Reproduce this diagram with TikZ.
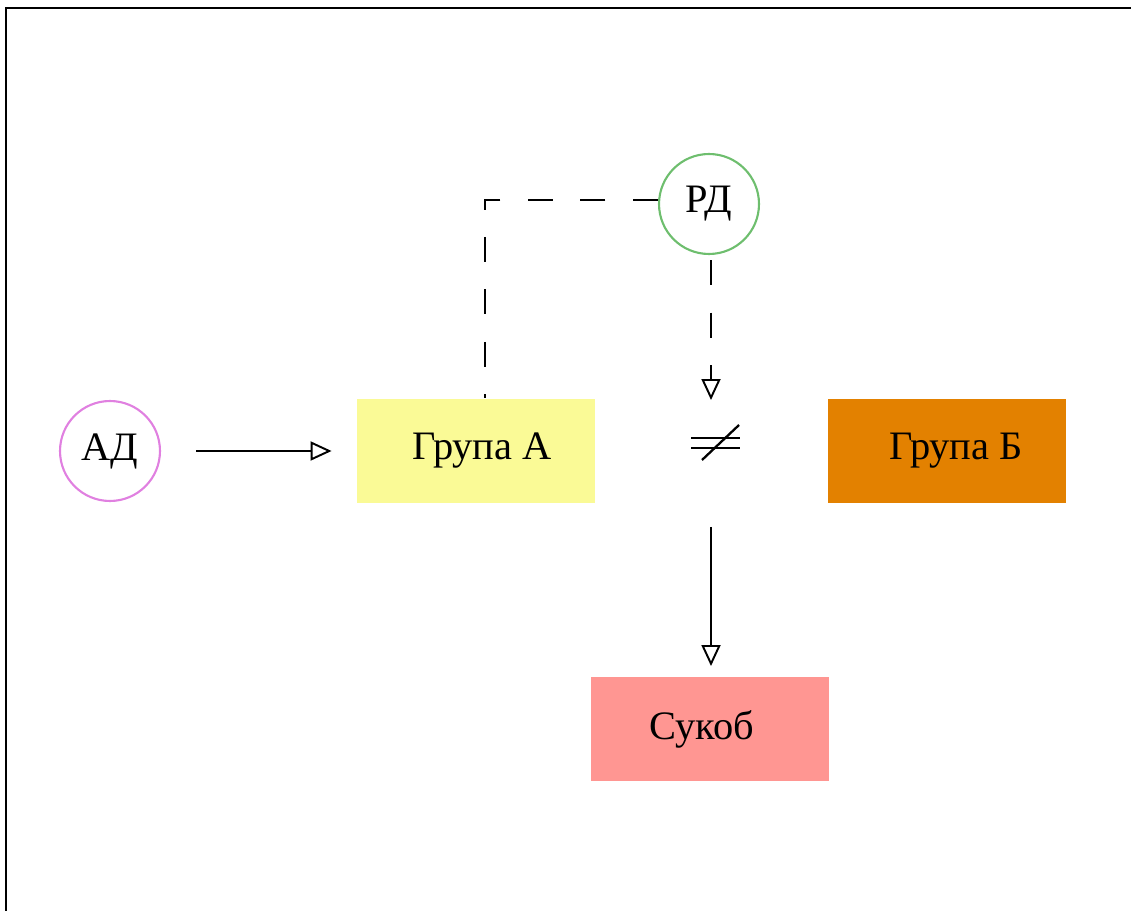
\documentclass[tikz,border=0pt]{standalone}
\usepackage{fontspec}
\setmainfont{Liberation Serif}
\usetikzlibrary{arrows.meta}
\definecolor{adpink}{RGB}{224,128,224}
\definecolor{rdgreen}{RGB}{110,190,110}
\definecolor{grpa}{RGB}{250,250,150}
\definecolor{grpb}{RGB}{227,129,0}
\definecolor{sukob}{RGB}{255,150,146}
\begin{document}
\begin{tikzpicture}[
    x=0.02cm, y=-0.02cm,
    every path/.style={>={Triangle[open,length=0.42cm,width=0.38cm]}},
    line width=1.1pt,
    minimum size=2cm,
    font=\fontsize{23}{27}\selectfont
    ]
    \useasboundingbox (0,0) rectangle (1131,911);

    % frame
    \draw[line width=1.6pt] (6,911) -- (6,8) -- (1131,8);

    % nodes
    \node[draw=adpink,circle,line width=1.2pt] (ad) at (110,451) {АД};
    \node[draw=rdgreen,circle,line width=1.2pt] (rd) at (709,204) {РД};

    \node[fill=grpa,minimum width=4.78cm,minimum height=2.08cm] (ga) at (476,451) {\kern0.24cm Група А};
    \node[fill=grpb,minimum width=4.78cm,minimum height=2.08cm] (gb) at (947,451) {\kern0.36cm Група Б};
    \node[fill=sukob,minimum width=4.76cm,minimum height=2.08cm] (sk) at (710,729) {Сукоб\kern0.32cm};

    \coordinate (corner) at (485,200);
    \coordinate (neq) at (711,443);

    % edges
    \draw[->,shorten <=0.7cm,shorten >=0.48cm] (ad) -- (ga);
    \draw[dash pattern=on 0.5cm off 0.55cm] (rd.west |- corner) -- (corner) -- (corner |- ga.north);
    \draw[->,dash pattern=on 0.5cm off 0.55cm] ([yshift=-0.1cm]rd.south -| neq) -- ([yshift=0.86cm]neq);
    \draw[->,shorten <=1.68cm,shorten >=0.2cm] (neq) -- (sk.north -| neq);

    % not equal
    \draw[line width=1.3pt] (691,438) -- (740,438);
    \draw[line width=1.3pt] (691,448) -- (740,448);
    \draw[line width=1.3pt] (702,460) -- (739,425);

\end{tikzpicture}
\end{document}
